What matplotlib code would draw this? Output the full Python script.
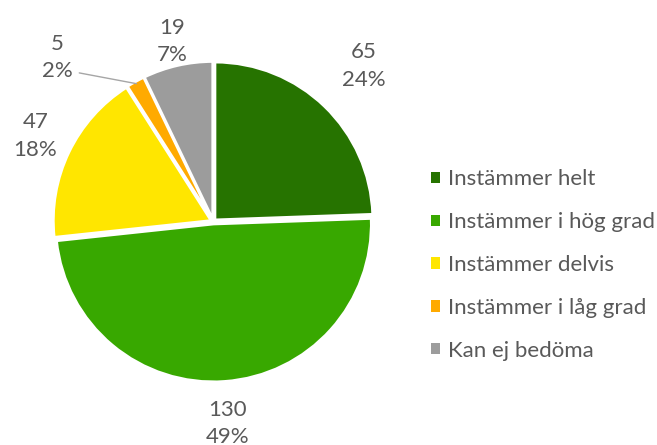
import matplotlib.pyplot as plt
import numpy as np
from matplotlib.patches import Patch

kategorier = ['Instämmer helt', 'Instämmer i hög grad', 'Instämmer delvis',
              'Instämmer i låg grad', 'Kan ej bedöma']
antal = [65, 130, 47, 5, 19]
procent = ['24%', '49%', '18%', '2%', '7%']

farger = ['#267300', '#38A800', '#FFE600', '#FFAA00', '#9C9C9C']
textfarg = '#595959'
plt.rcParams['font.family'] = ['Lato', 'DejaVu Sans']
fs = 16

fig = plt.figure(figsize=(6.57, 4.45), dpi=100)
ax = fig.add_axes([0.0, 0.0, 426.6 / 657, 442 / 445])

wedges, _ = ax.pie(antal, colors=farger, startangle=90, counterclock=False,
                   explode=[0.015] * len(antal),
                   wedgeprops=dict(edgecolor='white', linewidth=2))
ax.set_aspect('equal')
ax.set_xlim(-1.35, 1.35)
ax.set_ylim(-1.415, 1.385)

# etiketter runt cirkeln
avstand = [1.37, 1.28, 1.25, None, 1.17]
total = sum(antal)
start = 0
for i, v in enumerate(antal):
    mitt = np.deg2rad(90 - (start + v / 2) / total * 360)
    start += v
    etikett = f'{v}\n{procent[i]}'
    if avstand[i] is None:
        kant = (np.cos(mitt) * 1.0, np.sin(mitt) * 1.0)
        ax.annotate(etikett, xy=kant, xytext=(-0.99, 1.04), ha='center', va='center',
                    fontsize=fs, color=textfarg, linespacing=1.45,
                    arrowprops=dict(arrowstyle='-', color='#A6A6A6', lw=1,
                                    shrinkA=3, shrinkB=0,
                                    relpos=(1.0, 0.2)))
    else:
        ax.text(np.cos(mitt) * avstand[i], np.sin(mitt) * avstand[i], etikett,
                ha='center', va='center', fontsize=fs, color=textfarg, linespacing=1.45)

handtag = [Patch(facecolor=f, edgecolor='none') for f in farger]
fig.legend(handtag, kategorier, loc='center left', bbox_to_anchor=(431 / 657, 1 - 265 / 445),
           frameon=False, fontsize=fs, labelcolor=textfarg, handlelength=0.4,
           handleheight=0.4, handletextpad=0.35, labelspacing=1.03,
           borderpad=0, borderaxespad=0)

fig.savefig('out.png', dpi=100)
